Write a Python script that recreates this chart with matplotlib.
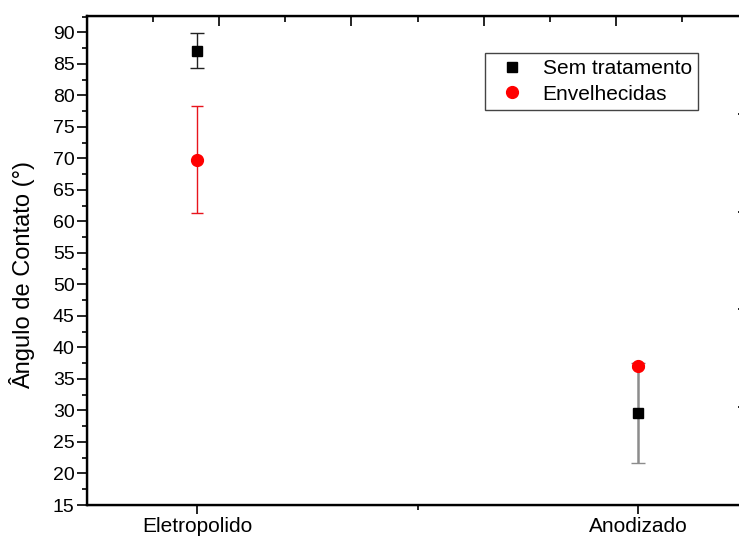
"""
Ângulo de contato: amostras sem tratamento e envelhecidas
"""

import matplotlib
matplotlib.use("Agg")
import matplotlib.pyplot as plt
from matplotlib.lines import Line2D
from matplotlib.ticker import MultipleLocator

plt.rcParams["font.family"] = ["Liberation Sans", "DejaVu Sans"]

# categorias do eixo x
categorias = ["Eletropolido", "Anodizado"]
posicoes = [1, 2]

# valores médios e desvios (°)
sem_tratamento = [87.1, 29.6]
sem_tratamento_erro = [2.75, 8.0]
envelhecidas = [69.8, 37.1]
envelhecidas_erro = [8.5, 0.4]

# cor das barras de erro da série preta em cada categoria
cor_erro_preto = ["#222222", "#8c8c8c"]
lw_erro_preto = [1.0, 1.8]

W, H = 739, 539
fig = plt.figure(figsize=(W / 100, H / 100), dpi=100)
# o eixo passa da borda direita da figura (como na imagem original, recortada)
ax = fig.add_axes([87 / W, 34 / H, 661 / W, 489 / H])

for x, y, e, c, lw in zip(posicoes, sem_tratamento, sem_tratamento_erro, cor_erro_preto, lw_erro_preto):
    ax.errorbar(x, y, yerr=e, fmt="none", ecolor=c, elinewidth=lw, capsize=5, capthick=1.0, zorder=2)
ax.plot(posicoes, sem_tratamento, ls="none", marker="s", ms=7.5, color="black", zorder=3)

ax.errorbar(posicoes, envelhecidas, yerr=envelhecidas_erro, fmt="none", ecolor="#e8141c",
            elinewidth=1.0, capsize=4.5, capthick=1.0, zorder=4)
ax.plot(posicoes, envelhecidas, ls="none", marker="o", ms=8.5, color="#ff0000", zorder=5)

ax.set_xlim(0.75, 2.25)
ax.set_ylim(15, 92.6)
ax.set_xticks(posicoes)
ax.set_xticklabels(categorias)
ax.xaxis.set_minor_locator(MultipleLocator(0.5))
ax.yaxis.set_major_locator(MultipleLocator(5))
ax.yaxis.set_minor_locator(MultipleLocator(2.5))

ax.tick_params(axis="y", which="major", direction="out", length=7, width=1.2, labelsize=14, pad=2)
ax.tick_params(axis="y", which="minor", direction="out", length=3.6, width=1.2)
ax.tick_params(axis="x", which="major", direction="out", length=6.5, width=1.2, labelsize=15, pad=2)
ax.tick_params(axis="x", which="minor", direction="out", length=3.5, width=1.2)
ax.tick_params(top=False, right=False, which="both")
for lado in ax.spines.values():
    lado.set_linewidth(1.7)

ax.set_ylabel("Ângulo de Contato (°)", fontsize=17)
ax.yaxis.set_label_coords(-0.078, 0.47)

# eixos secundários (apenas marcas, sem rótulos)
ax_top = ax.twiny()
ax_top.set_xlim(0, 5)
ax_top.xaxis.set_major_locator(MultipleLocator(1))
ax_top.xaxis.set_minor_locator(MultipleLocator(0.5))
ax_top.tick_params(axis="x", which="major", direction="in", length=7, width=1.2, labeltop=False)
ax_top.tick_params(axis="x", which="minor", direction="in", length=4.5, width=1.2)

ax_right = ax.twinx()
ax_right.set_ylim(0, 5)
ax_right.yaxis.set_major_locator(MultipleLocator(1))
ax_right.tick_params(axis="y", which="major", direction="in", length=7.5, width=1.2, labelright=False)
ax_right.spines["right"].set_linewidth(1.7)

handles = [
    Line2D([], [], ls="none", marker="s", ms=7.5, color="black"),
    Line2D([], [], ls="none", marker="o", ms=8.5, color="#ff0000"),
]
leg = ax.legend(handles, ["Sem tratamento", "Envelhecidas"], loc="upper right",
                bbox_to_anchor=((698 - 87) / 661, (505 - 53) / 489), borderaxespad=0,
                fontsize=15, fancybox=False, edgecolor="#444444", framealpha=1,
                handlelength=2.0, handletextpad=0.45, labelspacing=0.3,
                borderpad=0.3)
leg.get_frame().set_linewidth(1.0)

fig.savefig("out.png", dpi=100)
